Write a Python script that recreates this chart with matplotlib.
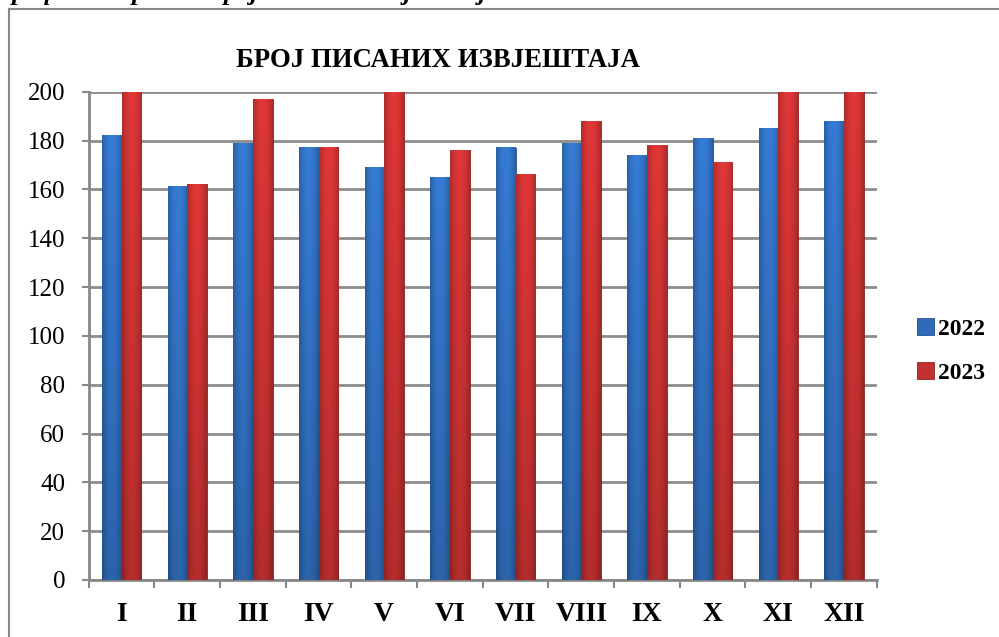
import matplotlib.pyplot as plt
import numpy as np
from matplotlib.patches import Rectangle

plt.rcParams['font.family'] = ['Liberation Serif', 'DejaVu Serif']

months = ["I", "II", "III", "IV", "V", "VI", "VII", "VIII", "IX", "X", "XI", "XII"]
y2022 = [182, 161, 179, 177, 169, 165, 177, 179, 174, 181, 185, 188]
y2023 = [214, 162, 197, 177, 220, 176, 166, 188, 178, 171, 200, 225]

title = "БРОЈ ПИСАНИХ ИЗВЈЕШТАЈА"
caption = "Графикон бр. 15 - Број писаних извјештаја"

blue = "#2f6bb8"
red = "#c23030"
ytop = 200


def shade(ax, bars, base):
    # horizontal + vertical gradient laid over each bar
    rgb = np.array(plt.matplotlib.colors.to_rgb(base))
    xs = np.linspace(-1, 1, 40)
    ys = np.linspace(0, 1, 60)[:, None]
    light = (1 - xs ** 2)[None, :] * 0.25 + 0.85
    vert = 0.85 + 0.2 * ys
    img = np.clip(rgb[None, None, :] * (light * vert)[:, :, None], 0, 1)
    for b in bars:
        x0, w, h = b.get_x(), b.get_width(), min(b.get_height(), ytop)
        ax.imshow(img, extent=[x0, x0 + w, 0, h], origin="lower",
                  aspect="auto", zorder=3, interpolation="bilinear")


fig = plt.figure(figsize=(9.99, 6.37), dpi=100)
ax = fig.add_axes([0.0888, 0.0895, 0.7888, 0.7665])

x = np.arange(len(months))
w = 0.30
b1 = ax.bar(x - w / 2, y2022, w, color=blue, edgecolor="#24508a", linewidth=0.6, zorder=3, label="2022")
b2 = ax.bar(x + w / 2, y2023, w, color=red, edgecolor="#8a2222", linewidth=0.6, zorder=3, label="2023")
shade(ax, b1, blue)
shade(ax, b2, red)

ax.set_xlim(-0.5, len(months) - 0.5)
ax.set_ylim(0, ytop)
ax.set_yticks(range(0, 201, 20))
ax.tick_params(axis="y", labelsize=18, length=5, width=1.5, color="#888888", pad=12)
ax.set_xticks(x)
ax.set_xticklabels(months, fontsize=20, fontweight="bold")
ax.tick_params(axis="x", length=0, pad=16)
ax.set_xticks(np.arange(len(months) + 1) - 0.5, minor=True)
ax.tick_params(axis="x", which="minor", length=6, width=1.5, color="#888888")
ax.grid(axis="y", color="#8c8c8c", linewidth=2, zorder=0)
ax.set_axisbelow(True)
for s in ["top", "right"]:
    ax.spines[s].set_visible(False)
for s in ["left", "bottom"]:
    ax.spines[s].set_color("#888888")
    ax.spines[s].set_linewidth(2)

fig.text(0.438, 0.905, title, fontsize=19.3, fontweight="bold", ha="center", va="center")
# caption above the chart, cropped at the top edge as in the source
fig.text(-0.003, 1 - 0.3 / 637, caption, fontsize=19, fontweight="bold", fontstyle="italic",
         ha="left", va="baseline")

leg = fig.legend(handles=[b1, b2], labels=["2022", "2023"], loc="center left",
                 bbox_to_anchor=(917 / 999, 1 - 351 / 637), frameon=False,
                 prop={"size": 17, "weight": "bold"}, handlelength=0.7, handleheight=0.7,
                 handletextpad=0.2, labelspacing=0.95, borderaxespad=0, borderpad=0)

fig.add_artist(Rectangle((9 / 999, -0.1), 1.2, 1 - 8.5 / 637 + 0.1, transform=fig.transFigure,
                         fill=False, edgecolor="#888888", linewidth=1.5))

fig.savefig("out.png", dpi=100)
